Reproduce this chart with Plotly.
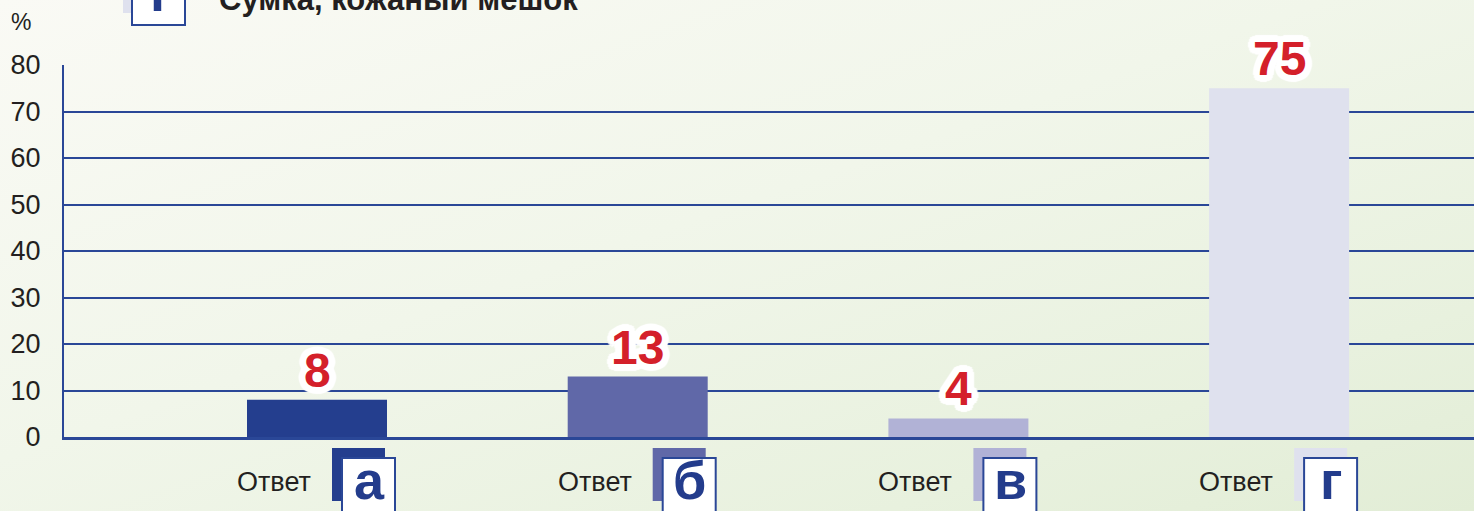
import base64
import plotly.graph_objects as go

# ---------------- data ----------------
categories = ["а", "б", "в", "г"]
values = [8, 13, 4, 75]
value_labels = ["8", "13", "4", "75"]
bar_colors = ["#243e8e", "#6068a8", "#b1b2d6", "#dfe1ee"]
answer_word = "Ответ"
y_ticks = [0, 10, 20, 30, 40, 50, 60, 70, 80]
y_tick_labels = ["0", "10", "20", "30", "40", "50", "60", "70", "80"]
title_text = "Сумка, кожаный мешок"
title_letter = "г"
unit_label = "%"

# ---------------- styling ----------------
W, H = 1474, 511
ML, MR, MT, MB = 64, 0, 65, 74
PW, PH = W - ML - MR, H - MT - MB
CAT_PX = 320.7            # pixels per category step
X0 = -(317 - ML) / CAT_PX  # left of axis range
X1 = X0 + PW / CAT_PX

BLUE = "#2a4797"
DARK_BLUE = "#233c8c"
TEXT = "#231f20"
RED = "#d4202a"
FONT = "Liberation Sans, Arial, Helvetica"


def px_x(dx):
    return dx / CAT_PX


def paper_y(py):
    return (H - MB - py) / PH


def paper_x(px):
    return (px - ML) / PW


# background gradient as inline svg
svg = f'''<svg xmlns="http://www.w3.org/2000/svg" width="{W}" height="{H}">
<defs><linearGradient id="g" x1="0" y1="0" x2="1" y2="1">
<stop offset="0" stop-color="#fafaf5"/>
<stop offset="0.45" stop-color="#f1f6ea"/>
<stop offset="0.8" stop-color="#e8f1de"/>
<stop offset="1" stop-color="#e2edd6"/>
</linearGradient></defs>
<rect width="{W}" height="{H}" fill="url(#g)"/></svg>'''
bg_uri = "data:image/svg+xml;base64," + base64.b64encode(svg.encode()).decode()

xs = list(range(len(categories)))

fig = go.Figure()
fig.add_trace(go.Bar(
    x=xs, y=values, width=140 / CAT_PX,
    marker=dict(color=bar_colors, line=dict(width=0)),
    hoverinfo="skip", showlegend=False,
))

outline = ", ".join(
    f"{dx}px {dy}px 1px #ffffff"
    for dx, dy in [(7, 0), (-7, 0), (0, 7), (0, -7), (5, 5), (-5, 5), (5, -5), (-5, -5),
                   (6, 3), (-6, 3), (6, -3), (-6, -3), (3, 6), (-3, 6), (3, -6), (-3, -6),
                   (3, 0), (-3, 0), (0, 3), (0, -3)]
)

annotations = []
shapes = []
for i, (cat, v, lab, col) in enumerate(zip(categories, values, value_labels, bar_colors)):
    # value label
    annotations.append(dict(
        x=i, y=v, xref="x", yref="y", text=f"<b>{lab}</b>", showarrow=False,
        yanchor="bottom", xanchor="center", yshift=1,
        font=dict(family=FONT, size=48, color=RED, shadow=outline),
    ))
    # "Ответ"
    annotations.append(dict(
        x=i + px_x(-43), y=paper_y(482), xref="x", yref="paper", text=answer_word,
        showarrow=False, xanchor="center", yanchor="middle",
        font=dict(family=FONT, size=27, color=TEXT),
    ))
    # shadow square
    shapes.append(dict(
        type="rect", xref="x", yref="paper", layer="above",
        x0=i + px_x(15), x1=i + px_x(68), y0=paper_y(501), y1=paper_y(448),
        fillcolor=col, line=dict(width=0),
    ))
    # white box
    shapes.append(dict(
        type="rect", xref="x", yref="paper", layer="above",
        x0=i + px_x(25), x1=i + px_x(78), y0=paper_y(530), y1=paper_y(458),
        fillcolor="#ffffff", line=dict(color=BLUE, width=2),
    ))
    annotations.append(dict(
        x=i + px_x(52), y=paper_y(480), xref="x", yref="paper", text=f"<b>{cat}</b>",
        showarrow=False, xanchor="center", yanchor="middle",
        font=dict(family=FONT, size=54, color=DARK_BLUE),
    ))

# unit label
annotations.append(dict(
    x=paper_x(21), y=paper_y(22), xref="paper", yref="paper", text=unit_label,
    showarrow=False, xanchor="center", yanchor="middle",
    font=dict(family=FONT, size=23, color=TEXT),
))

# partially visible header
shapes.append(dict(
    type="rect", xref="paper", yref="paper", layer="above",
    x0=paper_x(123), x1=paper_x(176), y0=paper_y(13), y1=paper_y(-40),
    fillcolor=bar_colors[3], line=dict(width=0),
))
shapes.append(dict(
    type="rect", xref="paper", yref="paper", layer="above",
    x0=paper_x(132), x1=paper_x(185), y0=paper_y(25), y1=paper_y(-40),
    fillcolor="#ffffff", line=dict(color=BLUE, width=2),
))
annotations.append(dict(
    x=paper_x(161), y=paper_y(24.5), xref="paper", yref="paper", text=f"<b>{title_letter}</b>",
    showarrow=False, xanchor="center", yanchor="bottom",
    font=dict(family=FONT, size=54, color=DARK_BLUE),
))
annotations.append(dict(
    x=paper_x(217), y=paper_y(19.5), xref="paper", yref="paper", text=f"<b>{title_text}</b>",
    showarrow=False, xanchor="left", yanchor="bottom",
    font=dict(family=FONT, size=31, color=TEXT),
))

fig.update_layout(
    width=W, height=H, autosize=False,
    margin=dict(l=ML, r=MR, t=MT, b=MB, pad=0),
    paper_bgcolor="#eef4e6", plot_bgcolor="rgba(0,0,0,0)",
    showlegend=False,
    xaxis=dict(range=[X0, X1], showgrid=False, zeroline=False, showticklabels=False,
               showline=True, linecolor=BLUE, linewidth=3, ticks="", fixedrange=True),
    yaxis=dict(range=[0, 80], tickvals=y_ticks, ticktext=y_tick_labels,
               showgrid=True, gridcolor=BLUE, gridwidth=2, zeroline=False,
               showline=True, linecolor=BLUE, linewidth=2, ticks="",
               ticklabelstandoff=16,
               tickfont=dict(family=FONT, size=27, color=TEXT)),
    images=[dict(source=bg_uri, xref="paper", yref="paper",
                 x=-ML / PW, y=1 + MT / PH, sizex=W / PW, sizey=H / PH,
                 sizing="stretch", xanchor="left", yanchor="top", layer="below")],
    annotations=annotations, shapes=shapes,
)

fig.write_html("out.html", config={"displayModeBar": False},
               post_script="document.body.style.margin='0';document.body.style.overflow='hidden';")
